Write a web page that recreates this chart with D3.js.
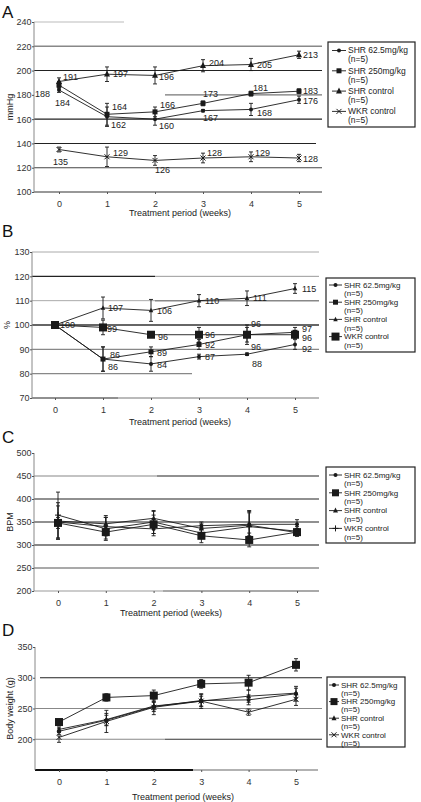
<!DOCTYPE html>
<html><head><meta charset="utf-8">
<script src="https://cdn.jsdelivr.net/npm/d3@7"></script>
<style>body{margin:0;background:#fff}svg{display:block;font-family:"Liberation Sans",Arial,sans-serif}</style>
</head><body>
<svg id="c" width="421" height="802"></svg>
<script>
// ---------- data ----------
const weeks = [0, 1, 2, 3, 4, 5];
const seriesNames = ["SHR 62.5mg/kg", "SHR 250mg/kg", "SHR control", "WKR control"];
const groupSize = "(n=5)";

// A: systolic blood pressure (mmHg)
const sbpTicks = [100, 120, 140, 160, 180, 200, 220, 240];
const sbpShr625 = [184, 162, 160, 167, 168, 176];
const sbpShr625Err = [2, 8, 5, 1, 5, 3];
const sbpShr250 = [188, 164, 166, 173, 181, 183];
const sbpShr250Err = [3, 9, 4, 2, 2, 2];
const sbpShrCtrl = [191, 197, 196, 204, 205, 213];
const sbpShrCtrlErr = [3, 6, 7, 5, 5, 3];
const sbpWkr = [135, 129, 126, 128, 129, 128];
const sbpWkrErr = [2, 8, 4, 4, 4, 3];

// B: relative blood pressure (%)
const pctTicks = [70, 80, 90, 100, 110, 120, 130];
const pctShr625 = [100, 86, 84, 87, 88, 92];
const pctShr625Err = [0, 5, 3, 1, 0.5, 2];
const pctShr250 = [100, 86, 89, 92, 96, 97];
const pctShr250Err = [0, 5, 2, 2, 3, 2];
const pctShrCtrl = [100, 107, 106, 110, 111, 115];
const pctShrCtrlErr = [0, 4.5, 4.5, 2.5, 3, 2];
const pctWkr = [100, 99, 96, 96, 96, 96];
const pctWkrErr = [0, 3, 1, 3, 4, 1.5];

// C: heart rate (BPM)
const bpmTicks = [200, 250, 300, 350, 400, 450, 500];
const bpmShr625 = [350, 340, 335, 342, 345, 345];
const bpmShr625Err = [35, 20, 15, 8, 25, 10];
const bpmShr250 = [348, 328, 345, 320, 311, 328];
const bpmShr250Err = [12, 15, 20, 15, 15, 8];
const bpmShrCtrl = [352, 346, 358, 336, 343, 327];
const bpmShrCtrlErr = [40, 18, 15, 10, 30, 8];
const bpmWkr = [365, 335, 350, 326, 340, 330];
const bpmWkrErr = [50, 25, 25, 12, 35, 10];

// D: body weight (g)
const bwTicks = [200, 250, 300, 350];
const bwShr625 = [213, 231, 253, 263, 264, 274];
const bwShr625Err = [5, 8, 8, 10, 8, 12];
const bwShr250 = [228, 268, 271, 290, 292, 321];
const bwShr250Err = [3, 6, 9, 7, 12, 10];
const bwShrCtrl = [216, 232, 254, 262, 270, 275];
const bwShrCtrlErr = [4, 10, 6, 8, 10, 8];
const bwWkr = [203, 229, 252, 262, 244, 265];
const bwWkrErr = [8, 18, 12, 12, 5, 10];

// ---------- layout ----------
const svg = d3.select("#c");
const INK = "#1a1a1a";

const panels = [
  {
    letter: "A", letterY: 18, yTitle: "mmHg", ticks: sbpTicks, domain: [100, 240],
    top: 22, bottom: 192, left: 34, right: 322, x0: 59, x5: 299,
    tickLabelDy: 13, xTitle: "Treatment period  (weeks)", xTitleX: 180, xTitleY: 216,
    grids: [[240, 34, 124, "#bbb", 1], [220, 34, 322, "#888", 1.6], [200, 34, 322, "#222", 1.1],
            [180, 165, 322, "#777", 1.1], [160, 34, 322, "#222", 1.1], [140, 34, 316, "#222", 1.1],
            [120, 34, 322, "#444", 1.1], [100, 34, 322, "#333", 1.2]],
    series: [
      { v: sbpShr625, e: sbpShr625Err, m: "dot", s: 2,
        lab: [[-4, 13], [4, 8], [4, 7], [0, 7], [6, 3], [4, 1]] },
      { v: sbpShr250, e: sbpShr250Err, m: "square", s: 5,
        lab: [[-9, 9, "end"], [5, -7], [5, -7], [0, -10], [2, -6], [4, 0]] },
      { v: sbpShrCtrl, e: sbpShrCtrlErr, m: "triangle", s: 6,
        lab: [[4, -5], [6, 0], [4, 1], [6, -3], [6, 0], [4, 0]] },
      { v: sbpWkr, e: sbpWkrErr, m: "x", s: 2.5,
        lab: [[-6, 12], [6, -4], [0, 9], [4, -5], [4, -4], [4, 1]] }
    ],
    legend: { x: 328, y: 42, w: 87, h: 85, first: 50.5, step: 20.3, gap: 9, fs: 8.5,
              l1: 4, l2: 18, tx: 20, markers: ["dot", "square", "triangle", "x"], sizes: [2, 5, 6, 2.5] }
  },
  {
    letter: "B", letterY: 237, yTitle: "%", ticks: pctTicks, domain: [70, 130],
    top: 252, bottom: 398, left: 32, right: 319, x0: 55, x5: 295,
    tickLabelDy: 13, xTitle: "Treatment period (weeks)", xTitleX: 180, xTitleY: 425,
    grids: [[130, 32, 319, "#aaa", 1], [120, 32, 155, "#222", 1.1], [120, 155, 319, "#999", 1],
            [110, 32, 155, "#aaa", 1], [110, 155, 319, "#888", 1.5], [100, 32, 319, "#333", 1.3],
            [90, 32, 319, "#888", 1.3], [80, 32, 192, "#888", 1.1],
            [70, 32, 118, "#222", 1.2], [70, 118, 319, "#777", 1.2]],
    series: [
      { v: pctShr625, e: pctShr625Err, m: "dot", s: 2,
        lab: [null, [5, 8], [6, 1], [6, 0], [5, 10], [7, 4]] },
      { v: pctShr250, e: pctShr250Err, m: "square", s: 5,
        lab: [null, [7, -4], [6, 1], [6, 0], [4, 12], [7, -3]] },
      { v: pctShrCtrl, e: pctShrCtrlErr, m: "triangle", s: 4.5,
        lab: [null, [5, 0], [6, 0], [6, 0], [6, 0], [7, 0]] },
      { v: pctWkr, e: pctWkrErr, m: "square", s: 8,
        lab: [[5, 0], [4, 1], [7, 2], [6, 0], [4, -11], [7, 3]] }
    ],
    legend: { x: 326, y: 278, w: 89, h: 74, first: 285, step: 17.2, gap: 8.3, fs: 8,
              l1: 3, l2: 16, tx: 18, markers: ["dot", "square", "triangle", "square"], sizes: [2, 5, 4.5, 8] }
  },
  {
    letter: "C", letterY: 443, yTitle: "BPM", ticks: bpmTicks, domain: [200, 500],
    top: 453, bottom: 591, left: 34, right: 319, x0: 58, x5: 297,
    tickLabelDy: 13, xTitle: "Treatment period (weeks)", xTitleX: 171, xTitleY: 616,
    grids: [[450, 34, 157, "#888", 1.1], [450, 157, 319, "#222", 1.1], [400, 34, 319, "#222", 1.1],
            [350, 34, 319, "#222", 1.2], [300, 34, 319, "#888", 1.8], [250, 34, 319, "#555", 1.1],
            [200, 34, 163, "#999", 1.1], [200, 163, 319, "#555", 1.1]],
    series: [
      { v: bpmShr625, e: bpmShr625Err, m: "dot", s: 2, lab: null },
      { v: bpmShr250, e: bpmShr250Err, m: "square", s: 8, lab: null },
      { v: bpmShrCtrl, e: bpmShrCtrlErr, m: "triangle", s: 5, lab: null },
      { v: bpmWkr, e: bpmWkrErr, m: "plus", s: 3, lab: null }
    ],
    legend: { x: 326, y: 467, w: 89, h: 76, first: 475, step: 17.8, gap: 8.3, fs: 8,
              l1: 3, l2: 16, tx: 18, markers: ["dot", "square", "triangle", "plus"], sizes: [2, 7, 5, 3] }
  },
  {
    letter: "D", letterY: 636, yTitle: "Body weight (g)", ticks: bwTicks, domain: [150, 350],
    top: 647, bottom: 770, left: 35, right: 318, x0: 59, x5: 296,
    tickLabelDy: 13, xTitle: "Treatment period (weeks)", xTitleX: 183, xTitleY: 800,
    grids: [[300, 40, 322, "#222", 1.1], [250, 35, 322, "#888", 1.1],
            [200, 35, 165, "#888", 1.1], [200, 165, 322, "#333", 1.1],
            [150, 35, 193, "#111", 2], [150, 193, 318, "#666", 1.2]],
    series: [
      { v: bwShr625, e: bwShr625Err, m: "dot", s: 2, lab: null },
      { v: bwShr250, e: bwShr250Err, m: "square", s: 8, lab: null },
      { v: bwShrCtrl, e: bwShrCtrlErr, m: "triangle", s: 5, lab: null },
      { v: bwWkr, e: bwWkrErr, m: "x", s: 2.5, lab: null }
    ],
    legend: { x: 327, y: 677, w: 78, h: 70, first: 685, step: 16.6, gap: 8, fs: 8,
              l1: 2, l2: 12, tx: 14, markers: ["dot", "square", "triangle", "x"], sizes: [2, 7, 5, 2.5] }
  }
];

function marker(g, type, s, cx, cy) {
  if (type === "dot") {
    g.append("circle").attr("cx", cx).attr("cy", cy).attr("r", s).attr("fill", INK);
  } else if (type === "square") {
    g.append("rect").attr("x", cx - s / 2).attr("y", cy - s / 2).attr("width", s).attr("height", s).attr("fill", INK);
  } else if (type === "triangle") {
    g.append("path").attr("d", `M${cx},${cy - s * 0.6}L${cx + s / 2},${cy + s * 0.4}L${cx - s / 2},${cy + s * 0.4}Z`).attr("fill", INK);
  } else if (type === "x") {
    g.append("path").attr("d", `M${cx - s},${cy - s}L${cx + s},${cy + s}M${cx - s},${cy + s}L${cx + s},${cy - s}`)
      .attr("stroke", INK).attr("stroke-width", 1);
  } else if (type === "plus") {
    g.append("path").attr("d", `M${cx - s},${cy}L${cx + s},${cy}M${cx},${cy - s}L${cx},${cy + s}`)
      .attr("stroke", INK).attr("stroke-width", 1);
  }
}

panels.forEach(p => {
  const g = svg.append("g");
  const x = d3.scaleLinear().domain([0, 5]).range([p.x0, p.x5]);
  const y = d3.scaleLinear().domain(p.domain).range([p.bottom, p.top]);

  g.append("text").attr("x", 2).attr("y", p.letterY).attr("font-size", 17).attr("fill", "#111").text(p.letter);

  // gridlines
  p.grids.forEach(([v, x1, x2, c, w]) => {
    g.append("line").attr("x1", x1).attr("x2", x2).attr("y1", y(v)).attr("y2", y(v))
      .attr("stroke", c).attr("stroke-width", w);
  });

  // y axis
  const ya = d3.axisLeft(y).tickValues(p.ticks).tickSize(2).tickFormat(d3.format("d"));
  const yg = g.append("g").attr("transform", `translate(${p.left},0)`).call(ya);
  yg.select(".domain").attr("stroke", "#888").attr("d", `M0,${p.top}V${p.bottom}`);
  yg.selectAll(".tick line").attr("stroke", "#555");
  yg.selectAll("text").attr("font-size", 9).attr("fill", "#333").attr("x", -2.5)
    .attr("font-family", "Liberation Sans, Arial, sans-serif");

  // x axis
  const xa = d3.axisBottom(x).tickValues(weeks).tickSize(2).tickFormat(d3.format("d"));
  const xg = g.append("g").attr("transform", `translate(0,${p.bottom})`).call(xa);
  xg.select(".domain").remove();
  xg.selectAll(".tick line").attr("stroke", "#555");
  xg.selectAll("text").attr("font-size", 9).attr("fill", "#333").attr("y", p.tickLabelDy - 4)
    .attr("font-family", "Liberation Sans, Arial, sans-serif");

  g.append("text").attr("x", p.xTitleX).attr("y", p.xTitleY).attr("text-anchor", "middle")
    .attr("font-size", 9).attr("fill", "#222").text(p.xTitle);
  const yMid = (p.top + p.bottom) / 2;
  g.append("text").attr("transform", `translate(${p.letter === "B" ? 10 : 13},${yMid}) rotate(-90)`)
    .attr("text-anchor", "middle").attr("font-size", 9).attr("fill", "#222").text(p.yTitle);

  // series
  const line = d3.line().x((d, i) => x(weeks[i])).y(d => y(d));
  p.series.forEach(s => {
    g.append("path").datum(s.v).attr("d", line).attr("fill", "none").attr("stroke", INK).attr("stroke-width", 0.9);
    s.v.forEach((v, i) => {
      const e = s.e[i];
      if (e > 0) {
        const cx = x(weeks[i]);
        g.append("path").attr("d", `M${cx},${y(v - e)}V${y(v + e)}M${cx - 2},${y(v - e)}H${cx + 2}M${cx - 2},${y(v + e)}H${cx + 2}`)
          .attr("stroke", INK).attr("stroke-width", 0.9).attr("fill", "none");
      }
    });
  });
  p.series.forEach(s => {
    s.v.forEach((v, i) => marker(g, s.m, s.s, x(weeks[i]), y(v)));
  });
  // value labels
  p.series.forEach(s => {
    if (!s.lab) return;
    s.v.forEach((v, i) => {
      const o = s.lab[i];
      if (!o) return;
      g.append("text").attr("x", x(weeks[i]) + o[0]).attr("y", y(v) + o[1]).attr("dy", "0.35em")
        .attr("text-anchor", o[2] || "start").attr("font-size", 9).attr("fill", "#222")
        .text(d3.format("d")(v));
    });
  });

  // legend
  const L = p.legend;
  const lg = g.append("g");
  lg.append("rect").attr("x", L.x).attr("y", L.y).attr("width", L.w).attr("height", L.h)
    .attr("fill", "#fff").attr("stroke", "#222").attr("stroke-width", 1.2);
  seriesNames.forEach((name, i) => {
    const ry = L.first + i * L.step;
    lg.append("line").attr("x1", L.x + L.l1).attr("x2", L.x + L.l2).attr("y1", ry).attr("y2", ry)
      .attr("stroke", INK).attr("stroke-width", 0.9);
    marker(lg, L.markers[i], L.sizes[i], L.x + (L.l1 + L.l2) / 2, ry);
    lg.append("text").attr("x", L.x + L.tx).attr("y", ry).attr("dy", "0.35em").attr("font-size", L.fs)
      .attr("fill", "#222").text(name);
    lg.append("text").attr("x", L.x + L.tx).attr("y", ry + L.gap).attr("dy", "0.35em").attr("font-size", L.fs)
      .attr("fill", "#222").text(groupSize);
  });
});
</script>
</body></html>
